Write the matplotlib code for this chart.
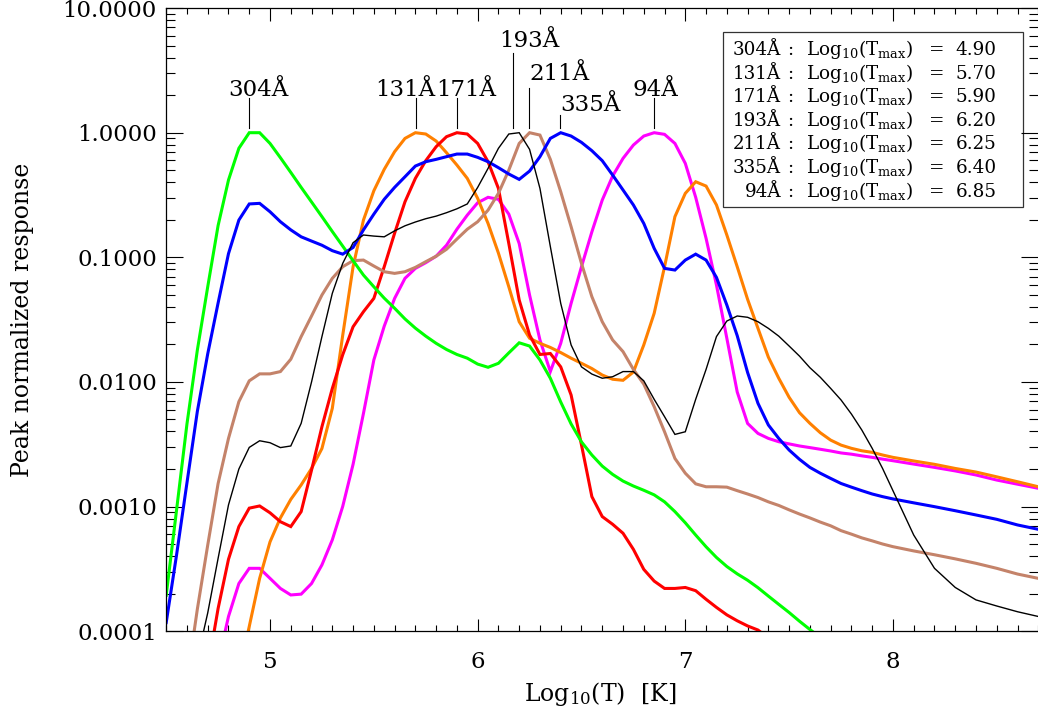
import numpy as np
import matplotlib
matplotlib.use('Agg')
import matplotlib.pyplot as plt
from matplotlib.ticker import FixedLocator, FuncFormatter, LogLocator, MultipleLocator, NullFormatter
from matplotlib.patches import Rectangle

plt.rcParams['font.family'] = ['DejaVu Serif']
plt.rcParams['mathtext.fontset'] = 'dejavuserif'

nan = np.nan

# ---------------- data ----------------
logT = [4.50, 4.55, 4.60, 4.65, 4.70, 4.75, 4.80, 4.85, 4.90, 4.95,
        5.00, 5.05, 5.10, 5.15, 5.20, 5.25, 5.30, 5.35, 5.40, 5.45,
        5.50, 5.55, 5.60, 5.65, 5.70, 5.75, 5.80, 5.85, 5.90, 5.95,
        6.00, 6.05, 6.10, 6.15, 6.20, 6.25, 6.30, 6.35, 6.40, 6.45,
        6.50, 6.55, 6.60, 6.65, 6.70, 6.75, 6.80, 6.85, 6.90, 6.95,
        7.00, 7.05, 7.10, 7.15, 7.20, 7.25, 7.30, 7.35, 7.40, 7.45,
        7.50, 7.55, 7.60, 7.65, 7.70, 7.75, 7.80, 7.85, 7.90, 7.95,
        8.00, 8.10, 8.20, 8.30, 8.40, 8.50, 8.60, 8.70]

resp_304 = [1.94e-4, 9.4e-4, 4.6e-3, 0.018, 0.058, 0.18, 0.417, 0.75, 1.0, 1.0,
            0.82, 0.63, 0.48, 0.364, 0.278, 0.212, 0.161, 0.123, 0.094, 0.072,
            0.058, 0.047, 0.039, 0.032, 0.027, 0.0233, 0.0204, 0.0182, 0.0166, 0.0155,
            0.0139, 0.0131, 0.0141, 0.0171, 0.0206, 0.0194, 0.0150, 0.0107, 0.0069, 0.0046,
            0.0033, 0.00259, 0.00211, 0.00181, 0.0016, 0.00146, 0.00135, 0.00124, 0.00109, 0.00091,
            7.4e-4, 5.9e-4, 4.75e-4, 3.9e-4, 3.3e-4, 2.88e-4, 2.56e-4, 2.23e-4, 1.91e-4, 1.64e-4,
            1.41e-4, 1.2e-4, 1.03e-4, 8.9e-5, nan, nan, nan, nan, nan, nan,
            nan, nan, nan, nan, nan, nan, nan, nan]

resp_131 = [nan, nan, nan, nan, nan, nan, nan, 4.5e-5, 1.09e-4, 2.65e-4,
            5.2e-4, 8.1e-4, 0.00114, 0.00149, 0.00202, 0.00292, 0.00614, 0.0236, 0.084, 0.199,
            0.342, 0.508, 0.704, 0.90, 1.0, 0.976, 0.857, 0.691, 0.55, 0.43,
            0.297, 0.187, 0.108, 0.058, 0.0304, 0.0224, 0.0204, 0.0189, 0.0172, 0.0155,
            0.0141, 0.0128, 0.01135, 0.0105, 0.0103, 0.012, 0.0198, 0.0355, 0.084, 0.212,
            0.326, 0.404, 0.373, 0.263, 0.151, 0.084, 0.046, 0.0269, 0.0158, 0.0107,
            0.00752, 0.00566, 0.00465, 0.00391, 0.00341, 0.00311, 0.00293, 0.0028, 0.00272, 0.00259,
            0.00248, 0.00232, 0.00218, 0.00202, 0.00189, 0.00173, 0.00158, 0.00144]

resp_171 = [nan, nan, nan, nan, 5e-5, 1.52e-4, 3.77e-4, 6.9e-4, 9.7e-4, 0.00101,
            8.9e-4, 7.55e-4, 6.9e-4, 9.1e-4, 0.00196, 0.00437, 0.00886, 0.0165, 0.0277, 0.0366,
            0.0468, 0.084, 0.156, 0.279, 0.43, 0.596, 0.772, 0.929, 1.0, 0.976,
            0.82, 0.585, 0.357, 0.129, 0.0454, 0.0238, 0.0166, 0.0169, 0.0132, 0.00785,
            0.00312, 0.0012, 8.3e-4, 7.2e-4, 6.1e-4, 4.53e-4, 3.13e-4, 2.52e-4, 2.2e-4, 2.2e-4,
            2.24e-4, 2.11e-4, 1.8e-4, 1.55e-4, 1.35e-4, 1.21e-4, 1.1e-4, 1.02e-4, 8.8e-5, nan,
            nan, nan, nan, nan, nan, nan, nan, nan, nan, nan,
            nan, nan, nan, nan, nan, nan, nan, nan]

resp_193 = [nan, nan, nan, 6e-5, 1.4e-4, 3.84e-4, 0.00103, 0.002, 0.00298, 0.00337,
            0.00325, 0.00297, 0.00306, 0.00465, 0.0100, 0.0231, 0.0514, 0.0893, 0.131, 0.151,
            0.148, 0.146, 0.163, 0.179, 0.192, 0.204, 0.214, 0.228, 0.245, 0.268,
            0.364, 0.517, 0.749, 0.976, 1.0, 0.735, 0.357, 0.122, 0.0427, 0.0198,
            0.0132, 0.01156, 0.0107, 0.011, 0.0121, 0.0121, 0.0102, 0.00725, 0.00526, 0.00379,
            0.00398, 0.00725, 0.0126, 0.0231, 0.0308, 0.0338, 0.0330, 0.0304, 0.0269, 0.0233,
            0.0194, 0.0161, 0.0130, 0.0109, 0.00887, 0.00716, 0.00552, 0.00411, 0.00293, 0.00202,
            0.00134, 5.9e-4, 3.19e-4, 2.24e-4, 1.78e-4, 1.59e-4, 1.43e-4, 1.31e-4]

resp_211 = [nan, nan, 4e-5, 1.5e-4, 4.9e-4, 0.00153, 0.00352, 0.00694, 0.0102, 0.0116,
            0.0116, 0.0121, 0.0152, 0.0231, 0.0338, 0.0498, 0.0678, 0.084, 0.094, 0.095,
            0.0851, 0.0766, 0.0743, 0.0766, 0.083, 0.0922, 0.102, 0.116, 0.140, 0.168,
            0.193, 0.239, 0.326, 0.501, 0.82, 1.0, 0.957, 0.611, 0.336, 0.176,
            0.0893, 0.0483, 0.0304, 0.0217, 0.0175, 0.0126, 0.0096, 0.00633, 0.00398, 0.00243,
            0.00185, 0.00152, 0.00144, 0.00144, 0.00143, 0.00134, 0.00126, 0.00118, 0.00109, 0.00102,
            9.4e-4, 8.7e-4, 8.1e-4, 7.5e-4, 7.0e-4, 6.4e-4, 6.0e-4, 5.6e-4, 5.3e-4, 5.0e-4,
            4.76e-4, 4.4e-4, 4.1e-4, 3.8e-4, 3.5e-4, 3.19e-4, 2.87e-4, 2.65e-4]

resp_335 = [1.17e-4, 4.1e-4, 0.00155, 0.0058, 0.0168, 0.043, 0.107, 0.199, 0.268, 0.271,
            0.232, 0.193, 0.166, 0.146, 0.135, 0.125, 0.113, 0.106, 0.120, 0.166,
            0.222, 0.292, 0.364, 0.443, 0.54, 0.585, 0.611, 0.642, 0.674, 0.674,
            0.634, 0.585, 0.524, 0.466, 0.422, 0.492, 0.642, 0.90, 1.0, 0.94,
            0.836, 0.717, 0.596, 0.457, 0.347, 0.263, 0.187, 0.118, 0.0815, 0.079,
            0.095, 0.106, 0.095, 0.069, 0.0414, 0.0235, 0.0119, 0.00673, 0.00451, 0.00352,
            0.00284, 0.00239, 0.00206, 0.00185, 0.00168, 0.00153, 0.00143, 0.00134, 0.00126, 0.0012,
            0.00115, 0.00107, 0.000997, 0.000925, 0.000855, 0.000789, 0.000711, 0.000656]

resp_94 = [nan, nan, nan, nan, nan, 5.6e-5, 1.31e-4, 2.41e-4, 3.19e-4, 3.19e-4,
           2.65e-4, 2.2e-4, 1.95e-4, 1.98e-4, 2.41e-4, 3.4e-4, 5.4e-4, 0.001, 0.00218, 0.00559,
           0.015, 0.028, 0.0468, 0.0678, 0.0815, 0.0905, 0.102, 0.125, 0.168, 0.218,
           0.274, 0.303, 0.292, 0.222, 0.129, 0.0498, 0.0217, 0.0121, 0.0204, 0.0427,
           0.084, 0.16, 0.288, 0.449, 0.622, 0.796, 0.94, 1.0, 0.97, 0.82,
           0.567, 0.303, 0.142, 0.0599, 0.0224, 0.0083, 0.00464, 0.00386, 0.00352, 0.00331,
           0.00318, 0.00306, 0.00297, 0.00288, 0.00279, 0.00269, 0.00263, 0.00255, 0.00248, 0.0024,
           0.00233, 0.00219, 0.00206, 0.00193, 0.00179, 0.00163, 0.00151, 0.0014]

channels = ['304Å', '131Å', '171Å', '193Å', '211Å', '335Å', '94Å']
peak_logT = [4.90, 5.70, 5.90, 6.20, 6.25, 6.40, 6.85]
y_ticks = [1e-4, 1e-3, 1e-2, 1e-1, 1.0, 10.0]
x_ticks = [5, 6, 7, 8]

# ---------------- figure ----------------
fig = plt.figure(figsize=(10.38, 7.10), dpi=100)
ax = fig.add_axes([166.2 / 1038, (710 - 631.1) / 710, 872.1 / 1038, 623.0 / 710])

series = [
    (resp_94, '#FF00FF', 2.2),
    (resp_131, '#FF8000', 2.2),
    (resp_171, '#FF0000', 2.2),
    (resp_211, '#C4836A', 2.2),
    (resp_304, '#00FF00', 2.2),
    (resp_335, '#0000FF', 2.2),
    (resp_193, '#000000', 1.0),
]
for vals, col, lw in series:
    ax.plot(logT, vals, color=col, lw=lw, solid_joinstyle='miter')

ax.set_yscale('log')
ax.set_xlim(4.5, 8.7)
ax.set_ylim(1e-4, 10)

ax.xaxis.set_major_locator(FixedLocator(x_ticks))
ax.xaxis.set_minor_locator(MultipleLocator(0.1))
ax.xaxis.set_major_formatter(FuncFormatter(lambda v, p: f'{v:.0f}'))
ax.yaxis.set_major_locator(FixedLocator(y_ticks))
ax.yaxis.set_minor_locator(LogLocator(base=10, subs=np.arange(2, 10), numticks=50))
ax.yaxis.set_major_formatter(FuncFormatter(lambda v, p: f'{v:.4f}'))
ax.yaxis.set_minor_formatter(NullFormatter())

ax.tick_params(axis='both', which='both', direction='in', top=True, right=True, width=0.8)
ax.tick_params(axis='x', which='major', length=9.0, pad=14.5, labelsize=16.5)
ax.tick_params(axis='x', which='minor', length=4.5)
ax.tick_params(axis='y', which='major', length=12.5, pad=6.8, labelsize=16.5)
ax.tick_params(axis='y', which='minor', length=6.3)
for s in ax.spines.values():
    s.set_linewidth(0.9)
ax.spines['right'].set_visible(False)

ax.set_xlabel(r'Log$_{10}$(T)  [K]', fontsize=17)
ax.xaxis.set_label_coords(0.4975, -0.079)
ax.set_ylabel('Peak normalized response', fontsize=17)
ax.yaxis.set_label_coords(-0.152, 0.5)

# ---------------- peak labels with leader lines ----------------
label_layout = [  # text centre x, text baseline y, leader x, leader top y
    (4.9456, 1.970, 4.900, 1.888),
    (5.6499, 1.970, 5.701, 1.888),
    (5.9470, 1.970, 5.899, 1.888),
    (6.2485, 4.900, 6.171, 4.385),
    (6.3965, 2.649, 6.2475, 2.272),
    (6.5427, 1.494, 6.3987, 1.387),
    (6.8561, 1.970, 6.849, 1.888),
]
for name, (tx, ty, lx, ly) in zip(channels, label_layout):
    ax.text(tx, ty, name, ha='center', va='baseline', fontsize=16.5)
    ax.plot([lx, lx], [1.097, ly], color='black', lw=0.8)

# ---------------- legend box ----------------
ax.add_patch(Rectangle((0.6382, 0.6803), 0.9829 - 0.6382, 0.9621 - 0.6803,
                       transform=ax.transAxes, fill=False, edgecolor='#333333', lw=0.9))
for i, (name, tmax) in enumerate(zip(channels, peak_logT)):
    fy = 0.9247 - i * 0.03788
    ax.text(0.7050, fy, name, transform=ax.transAxes, ha='right', va='baseline', fontsize=13.2)
    ax.text(0.7159, fy, ':', transform=ax.transAxes, ha='center', va='baseline', fontsize=13.2)
    ax.text(0.7337, fy, r'Log$_{10}$(T$_{\mathrm{max}}$)', transform=ax.transAxes,
            ha='left', va='baseline', fontsize=13.2)
    ax.text(0.8836, fy, '=', transform=ax.transAxes, ha='center', va='baseline', fontsize=13.2)
    ax.text(0.9054, fy, f'{tmax:.2f}', transform=ax.transAxes, ha='left', va='baseline', fontsize=13.2)

fig.savefig('out.png', dpi=100)
